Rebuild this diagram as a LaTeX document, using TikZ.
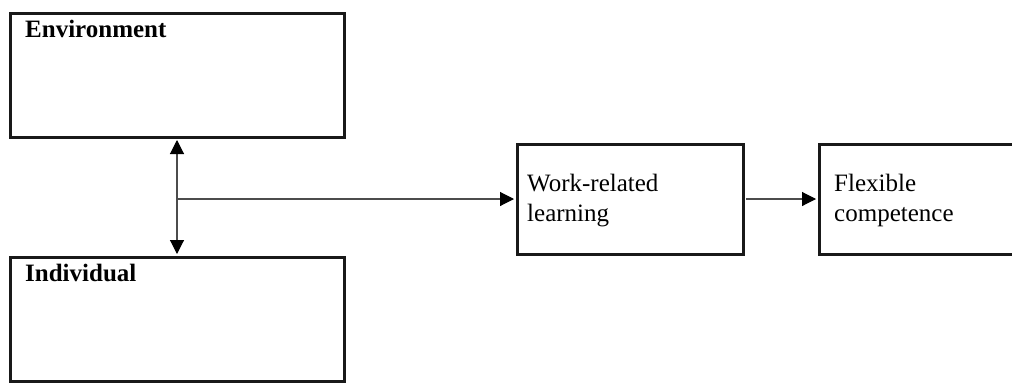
\documentclass[tikz,border=0pt]{standalone}
\usepackage{fontspec}
\setmainfont{Liberation Serif}
\usetikzlibrary{arrows.meta}
\begin{document}
\begin{tikzpicture}[x=1pt,y=-1pt,
  box/.style={draw=black!90, line width=3pt, inner sep=0pt, rectangle},
  lbl/.style={anchor=base west, inner sep=0pt, font=\fontsize{25}{30}\selectfont},
  tip/.style={Triangle[length=14pt,width=14pt,color=black]},
  conn/.style={line width=1.1pt, draw=black!70, -{Triangle[length=14pt,width=14pt,color=black]}},
  dconn/.style={line width=1.1pt, draw=black!70, {Triangle[length=14pt,width=14pt,color=black]}-{Triangle[length=14pt,width=14pt,color=black]}}]
\useasboundingbox (0,0) rectangle (1012,383);
\clip (0,0) rectangle (1012,383);
\fill[white] (0,0) rectangle (1012,383);
\node[box, minimum width=334pt, minimum height=124pt] (env) at (177,75) {};
\node[box, minimum width=334pt, minimum height=124pt] (ind) at (177,319) {};
\node[box, minimum width=226pt, minimum height=110pt] (work) at (630,199) {};
\node[box, minimum width=202pt, minimum height=110pt] (flex) at (920,199) {};
\node[lbl, font=\fontsize{25}{30}\selectfont\bfseries] (envt) at (25,37) {Environment};
\node[lbl, font=\fontsize{25}{30}\selectfont\bfseries] (indt) at (25,281) {Individual};
\node[lbl] (workt1) at (527,191) {Work-related};
\node[lbl] (workt2) at (527,221) {learning};
\node[lbl] (flext1) at (834,191) {Flexible};
\node[lbl] (flext2) at (834,221) {competence};
\coordinate (j) at (env.south |- work.west);
\draw[dconn] ([yshift=-1.5pt]env.south) -- ([yshift=1.5pt]ind.north);
\draw[conn] (j) -- ([xshift=-1.5pt]work.west);
\draw[conn] ([xshift=1.5pt]work.east) -- ([xshift=-1.5pt]flex.west);
\end{tikzpicture}
\end{document}
